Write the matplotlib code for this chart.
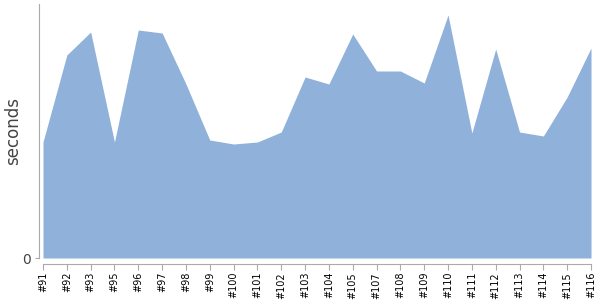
import numpy as np
import matplotlib
matplotlib.use('Agg')
import matplotlib.pyplot as plt

# Build labels and durations
builds = ['#91', '#92', '#93', '#95', '#96', '#97', '#98', '#99', '#100', '#101',
          '#102', '#103', '#104', '#105', '#107', '#108', '#109', '#110', '#111',
          '#112', '#113', '#114', '#115', '#116']
seconds = [116, 203, 226, 116, 228, 225, 174, 118, 114, 116,
           126, 181, 174, 224, 187, 187, 175, 243, 125,
           209, 126, 122, 161, 210]

x = np.arange(len(builds))

fig = plt.figure(figsize=(6, 3), dpi=100)
ax = fig.add_axes([43 / 600, 1 - 258 / 300, (591 - 43) / 600, (258 - 4) / 300])

# spine positions first (set_position resets the tick labels)
for s in ['top', 'right']:
    ax.spines[s].set_visible(False)
ax.spines['left'].set_position(('outward', 3))
ax.spines['bottom'].set_position(('outward', 4))
ax.spines['left'].set_color('#aaaaaa')
ax.spines['bottom'].set_color('#aaaaaa')

ax.fill_between(x, 0, seconds, color='#8fb1da', linewidth=0)

ax.set_xlim(0, len(builds) - 1)
ax.set_ylim(0, 254)

ax.set_xticks(x)
ax.set_xticklabels(builds, rotation=90, fontsize=7, color='black')
ax.set_yticks([0])
ax.set_yticklabels(['0'], fontsize=10, color='#444444')
ax.set_ylabel('seconds', fontsize=12, color='#444444')
ax.yaxis.set_label_coords(-0.038, 0.5)

ax.tick_params(axis='x', color='#aaaaaa', length=4, pad=2)
ax.tick_params(axis='y', color='#aaaaaa', length=3, pad=3)

fig.savefig('out.png')
